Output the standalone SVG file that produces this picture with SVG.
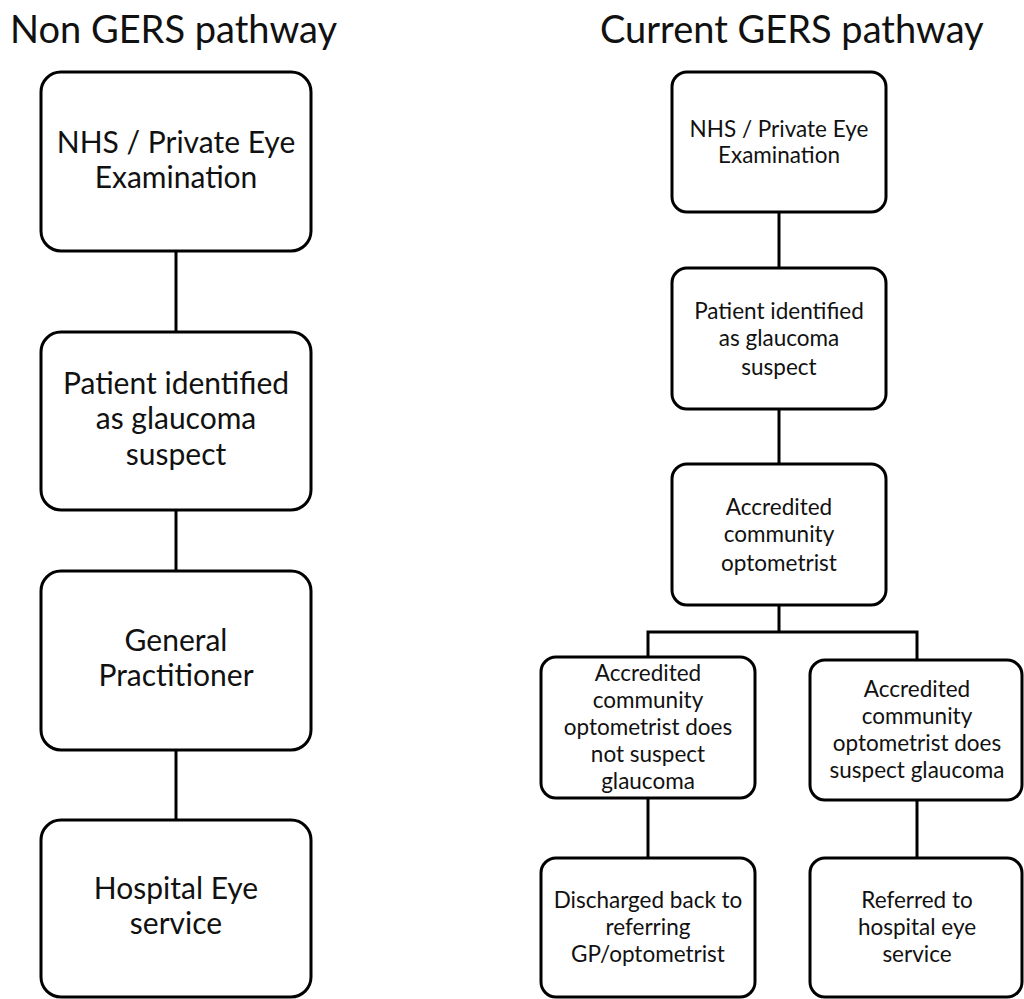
<svg xmlns="http://www.w3.org/2000/svg" width="1024" height="999" viewBox="0 0 1024 999">
  <style>
    .box { fill: #fff; stroke: #000; stroke-width: 3; }
    .wire { fill: none; stroke: #000; stroke-width: 3; }
    text { font-family: Lato, "Open Sans", "Liberation Sans", sans-serif; fill: #111; text-anchor: middle; }
    .title { font-size: 38px; text-anchor: start; }
    .big { font-size: 30px; }
    .small { font-size: 22.5px; }
  </style>
  <rect width="1024" height="999" fill="#fff"/>

  <text class="title" x="10" y="43">Non GERS pathway</text>
  <text class="title" x="600" y="43">Current GERS pathway</text>

  <g id="connectors">
    <line class="wire" x1="176" y1="251" x2="176" y2="332"/>
    <line class="wire" x1="176" y1="510" x2="176" y2="571"/>
    <line class="wire" x1="176" y1="750" x2="176" y2="820"/>
    <line class="wire" x1="779" y1="212" x2="779" y2="268"/>
    <line class="wire" x1="779" y1="409" x2="779" y2="464"/>
    <path class="wire" d="M779,605 V632 M648,657 V632 H917 V660"/>
    <line class="wire" x1="648" y1="798" x2="648" y2="858"/>
    <line class="wire" x1="917" y1="800" x2="917" y2="858"/>
  </g>

  <g id="n-eye-exam">
    <rect class="box" x="41" y="72" width="270" height="179" rx="20"/>
    <text class="big" x="176" y="153">NHS / Private Eye</text>
    <text class="big" x="176" y="188">Examination</text>
  </g>
  <g id="n-suspect">
    <rect class="box" x="41" y="332" width="270" height="178" rx="20"/>
    <text class="big" x="176" y="394">Patient identified</text>
    <text class="big" x="176" y="429">as glaucoma</text>
    <text class="big" x="176" y="465">suspect</text>
  </g>
  <g id="n-gp">
    <rect class="box" x="41" y="571" width="270" height="179" rx="20"/>
    <text class="big" x="176" y="651">General</text>
    <text class="big" x="176" y="686">Practitioner</text>
  </g>
  <g id="n-hes">
    <rect class="box" x="41" y="820" width="270" height="177" rx="20"/>
    <text class="big" x="176" y="899">Hospital Eye</text>
    <text class="big" x="176" y="934">service</text>
  </g>

  <g id="g-eye-exam">
    <rect class="box" x="672" y="72" width="214" height="140" rx="15"/>
    <text class="small" x="779" y="137">NHS / Private Eye</text>
    <text class="small" x="779" y="163">Examination</text>
  </g>
  <g id="g-suspect">
    <rect class="box" x="672" y="268" width="214" height="141" rx="15"/>
    <text class="small" x="779" y="319">Patient identified</text>
    <text class="small" x="779" y="346">as glaucoma</text>
    <text class="small" x="779" y="375">suspect</text>
  </g>
  <g id="g-optom">
    <rect class="box" x="672" y="464" width="214" height="141" rx="15"/>
    <text class="small" x="779" y="515">Accredited</text>
    <text class="small" x="779" y="542">community</text>
    <text class="small" x="779" y="571">optometrist</text>
  </g>
  <g id="g-not-suspect">
    <rect class="box" x="541" y="657" width="214" height="141" rx="15"/>
    <text class="small" x="648" y="681">Accredited</text>
    <text class="small" x="648" y="708">community</text>
    <text class="small" x="648" y="735">optometrist does</text>
    <text class="small" x="648" y="762">not suspect</text>
    <text class="small" x="648" y="789">glaucoma</text>
  </g>
  <g id="g-does-suspect">
    <rect class="box" x="810" y="660" width="212" height="140" rx="15"/>
    <text class="small" x="917" y="697">Accredited</text>
    <text class="small" x="917" y="724">community</text>
    <text class="small" x="917" y="751">optometrist does</text>
    <text class="small" x="917" y="778">suspect glaucoma</text>
  </g>
  <g id="g-discharged">
    <rect class="box" x="541" y="858" width="214" height="139" rx="15"/>
    <text class="small" x="648" y="908">Discharged back to</text>
    <text class="small" x="648" y="935">referring</text>
    <text class="small" x="648" y="962">GP/optometrist</text>
  </g>
  <g id="g-referred">
    <rect class="box" x="810" y="858" width="212" height="139" rx="15"/>
    <text class="small" x="917" y="908">Referred to</text>
    <text class="small" x="917" y="935">hospital eye</text>
    <text class="small" x="917" y="962">service</text>
  </g>
</svg>
